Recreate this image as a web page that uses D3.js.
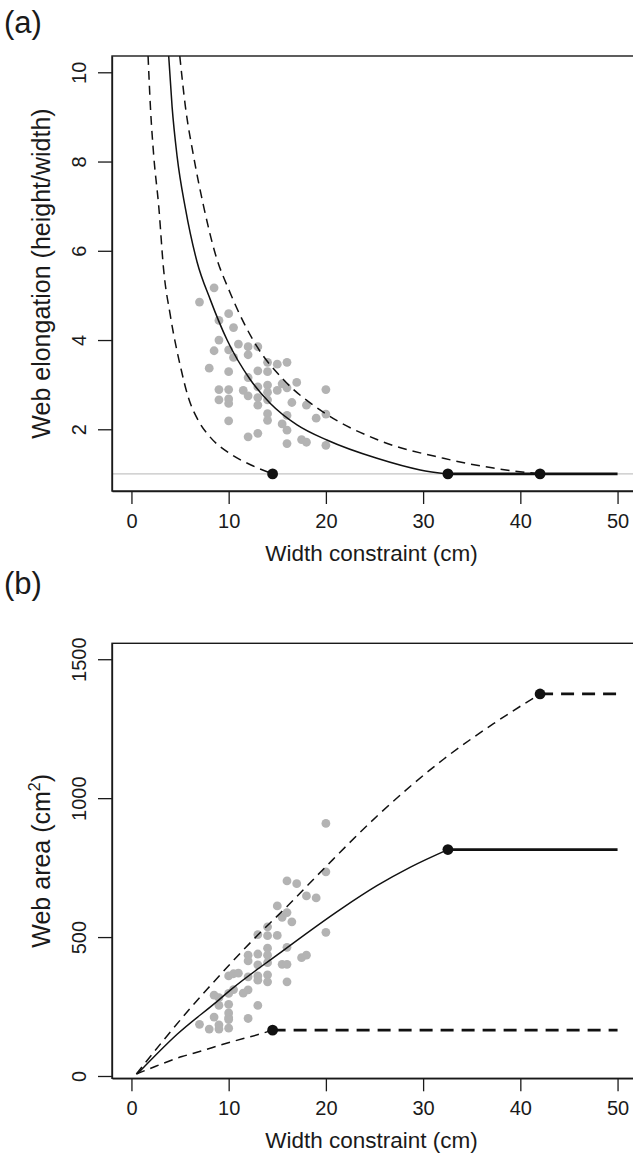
<!DOCTYPE html>
<html><head><meta charset="utf-8">
<script src="https://cdn.jsdelivr.net/npm/d3@7"></script>
<style>
body{margin:0;background:#fff}
svg{display:block}
text{font-family:"Liberation Sans",Arial,Helvetica,sans-serif;fill:#1a1a1a}
</style>
</head><body>
<svg id="c" width="633" height="1157"></svg>
<script>
// ---- data ----
const widths = [8.5,7,10,9,10.5,9,11,8.5,10,12,12,13,10.5,8,10,13,14,14,15,16,12,17,9,10,11.5,13,14,14,15,15.5,16,20,9,10,10,12,13,14,13,16.5,18,20,19,14,14,16,10,15.5,16,13,12,16,17.5,18,20];
const elongation = [5.17,4.85,4.59,4.44,4.28,4.00,3.91,3.76,3.78,3.85,3.67,3.85,3.61,3.37,3.29,3.31,3.50,3.29,3.46,3.50,3.16,3.05,2.89,2.89,2.87,2.95,2.99,2.83,2.87,3.02,2.93,2.89,2.66,2.68,2.58,2.75,2.71,2.66,2.54,2.60,2.54,2.34,2.25,2.35,2.20,2.31,2.19,2.12,1.98,1.91,1.83,1.68,1.77,1.71,1.64];
const webArea = [291,186,360,282,368,254,370,212,297,435,414,509,311,169,258,439,537,505,612,702,357,692,184,227,298,400,460,435,506,571,588,909,169,210,203,310,360,408,345,555,648,735,641,364,339,463,172,402,402,254,207,339,426,435,517];

// model curves (width, elongation) in panel a
const elongMid   = [[3.83,10.37],[4.18,9.23],[4.7,8.11],[5.55,6.95],[6.75,5.75],[8.12,4.9],[9.84,4.0],[12.23,3.11],[14.29,2.58],[17.03,2.1],[20.1,1.76],[25.25,1.35],[29.7,1.09],[32.55,1]];
const elongUpper = [[4.97,10.37],[5.55,9.23],[6.4,8.11],[7.43,6.99],[8.6,5.95],[10.17,5.05],[12.92,3.85],[15.65,3.11],[19.77,2.38],[25.25,1.77],[32.1,1.35],[37.24,1.13],[42.03,1]];
const elongLower = [[1.71,10.37],[1.95,9.23],[2.3,8.11],[2.81,6.99],[3.3,5.6],[4.0,4.55],[5.1,3.35],[5.8,2.75],[7.0,2.15],[8.0,1.85],[10.3,1.43],[12.3,1.2],[14.52,1]];

// model curves (width, area) in panel b
const areaMid   = [[0.6,7],[4.7,150],[9,274],[10.2,310],[15,436],[21.5,600],[25.25,685],[28.7,752],[32.55,815]];
const areaUpper = [[0.5,7],[6.06,244],[7.78,312],[13.02,508],[16.0,610],[20.04,755],[25.25,935],[32.1,1140],[37.24,1268],[42.03,1375]];
const areaLower = [[0.5,7],[2.5,35],[5.2,70],[6.4,82],[10.2,122],[13.5,154],[14.5,165]];

// plateau points (where the web becomes circular)
const plateauWidth = [14.52, 32.55, 42.03];
const plateauArea  = [165, 815, 1375];
const plateauEnd = 50;

const xTicks = [0,10,20,30,40,50];
const yTicksA = [2,4,6,8,10];
const yTicksB = [0,500,1000,1500];

// ---- drawing ----
const svg = d3.select("#c");
const left = 112, right = 637;
const FONT = '"Liberation Sans",Arial,sans-serif';

function panel(g, cfg){
  const x = d3.scaleLinear().domain([-2,52]).range([left,right]);
  const y = d3.scaleLinear().domain(cfg.ydom).range([cfg.bottom, cfg.top]);
  const clipId = "clip" + cfg.id;
  g.append("clipPath").attr("id",clipId).append("rect")
    .attr("x",left).attr("y",cfg.top).attr("width",right-left).attr("height",cfg.bottom-cfg.top);
  const plot = g.append("g").attr("clip-path",`url(#${clipId})`);
  return {x,y,plot};
}

function axes(g, x, y, cfg){
  g.append("rect").attr("x",left).attr("y",cfg.top).attr("width",right-left).attr("height",cfg.bottom-cfg.top)
    .attr("fill","none").attr("stroke","#1a1a1a").attr("stroke-width",1.4);
  const xa = g.append("g").attr("transform",`translate(0,${cfg.bottom})`)
    .call(d3.axisBottom(x).tickValues(xTicks).tickSize(13).tickSizeOuter(0).tickPadding(10).tickFormat(d3.format("d")));
  xa.select(".domain").attr("stroke","#1a1a1a").attr("stroke-width",1.3);
  xa.selectAll(".tick line").attr("stroke","#1a1a1a").attr("stroke-width",1.3);
  xa.selectAll(".tick text").attr("font-size",20).attr("fill","#1a1a1a").attr("font-family",FONT);
  const ya = g.append("g").attr("transform",`translate(${left},0)`)
    .call(d3.axisLeft(y).tickValues(cfg.yticks).tickSize(14).tickSizeOuter(0).tickFormat(d3.format("d")));
  ya.select(".domain").attr("stroke","#1a1a1a").attr("stroke-width",1.3);
  ya.selectAll(".tick line").attr("stroke","#1a1a1a").attr("stroke-width",1.3);
  ya.selectAll(".tick text").attr("font-size",20).attr("fill","#1a1a1a").attr("font-family",FONT)
    .attr("x",null).attr("dy",null)
    .attr("text-anchor","middle")
    .attr("transform","translate(-26,0) rotate(-90)");
  g.append("text").attr("x",(left+right)/2 - 3).attr("y",cfg.bottom+70).attr("text-anchor","middle")
    .attr("font-size",22.5).text("Width constraint (cm)");
  const yt = g.append("text").attr("text-anchor","middle").attr("font-size",25)
    .attr("transform",`translate(50,${(cfg.top+cfg.bottom)/2}) rotate(-90)`);
  cfg.ytitle(yt);
  g.append("text").attr("x",4).attr("y",cfg.labelY).attr("font-size",31).text(cfg.label);
}

const line = (x,y) => d3.line().x(d=>x(d[0])).y(d=>y(d[1])).curve(d3.curveMonotoneX);

// ---------- panel (a) ----------
{
  const cfg = {id:"a", top:56, bottom:491, ydom:[0.617,10.365], yticks:yTicksA, label:"(a)", labelY:33,
    ytitle: t => t.text("Web elongation (height/width)")};
  const g = svg.append("g");
  const {x,y,plot} = panel(g,cfg);
  plot.append("line").attr("x1",left).attr("x2",right).attr("y1",y(1)).attr("y2",y(1))
    .attr("stroke","#c4c4c4").attr("stroke-width",1.4);
  plot.selectAll("circle.pt").data(widths.map((w,i)=>[w,elongation[i]])).join("circle")
    .attr("class","pt").attr("cx",d=>x(d[0])).attr("cy",d=>y(d[1])).attr("r",4.4).attr("fill","#b3b3b3");
  const L = line(x,y);
  plot.append("path").attr("d",L(elongMid)).attr("fill","none").attr("stroke","#111").attr("stroke-width",1.5);
  plot.append("path").attr("d",L(elongUpper)).attr("fill","none").attr("stroke","#111").attr("stroke-width",1.5).attr("stroke-dasharray","9,6");
  plot.append("path").attr("d",L(elongLower)).attr("fill","none").attr("stroke","#111").attr("stroke-width",1.5).attr("stroke-dasharray","9,6");
  plot.append("line").attr("x1",x(plateauWidth[1])).attr("x2",x(plateauEnd)).attr("y1",y(1)).attr("y2",y(1))
    .attr("stroke","#111").attr("stroke-width",2.8);
  plot.selectAll("circle.end").data(plateauWidth).join("circle").attr("class","end")
    .attr("cx",d=>x(d)).attr("cy",y(1)).attr("r",5.4).attr("fill","#111");
  axes(g,x,y,cfg);
}

// ---------- panel (b) ----------
{
  const cfg = {id:"b", top:643.3, bottom:1078.3, ydom:[-8.3,1557.3], yticks:yTicksB, label:"(b)", labelY:594,
    ytitle: t => { t.append("tspan").text("Web area (cm");
                   t.append("tspan").attr("font-size",16).attr("dy",-10).text("2");
                   t.append("tspan").attr("dy",10).text(")"); }};
  const g = svg.append("g");
  const {x,y,plot} = panel(g,cfg);
  plot.selectAll("circle.pt").data(widths.map((w,i)=>[w,webArea[i]])).join("circle")
    .attr("class","pt").attr("cx",d=>x(d[0])).attr("cy",d=>y(d[1])).attr("r",4.4).attr("fill","#b3b3b3");
  const L = line(x,y);
  plot.append("path").attr("d",L(areaMid)).attr("fill","none").attr("stroke","#111").attr("stroke-width",1.5);
  plot.append("path").attr("d",L(areaUpper)).attr("fill","none").attr("stroke","#111").attr("stroke-width",1.5).attr("stroke-dasharray","9,6");
  plot.append("path").attr("d",L(areaLower)).attr("fill","none").attr("stroke","#111").attr("stroke-width",1.5).attr("stroke-dasharray","9,6");
  plot.append("line").attr("x1",x(plateauWidth[0])).attr("x2",x(plateauEnd)).attr("y1",y(plateauArea[0])).attr("y2",y(plateauArea[0]))
    .attr("stroke","#111").attr("stroke-width",2.8).attr("stroke-dasharray","13,8");
  plot.append("line").attr("x1",x(plateauWidth[1])).attr("x2",x(plateauEnd)).attr("y1",y(plateauArea[1])).attr("y2",y(plateauArea[1]))
    .attr("stroke","#111").attr("stroke-width",2.8);
  plot.append("line").attr("x1",x(plateauWidth[2])).attr("x2",x(plateauEnd)).attr("y1",y(plateauArea[2])).attr("y2",y(plateauArea[2]))
    .attr("stroke","#111").attr("stroke-width",2.8).attr("stroke-dasharray","13,8");
  plot.selectAll("circle.end").data(plateauWidth.map((w,i)=>[w,plateauArea[i]])).join("circle").attr("class","end")
    .attr("cx",d=>x(d[0])).attr("cy",d=>y(d[1])).attr("r",5.4).attr("fill","#111");
  axes(g,x,y,cfg);
}
</script>
</body></html>
